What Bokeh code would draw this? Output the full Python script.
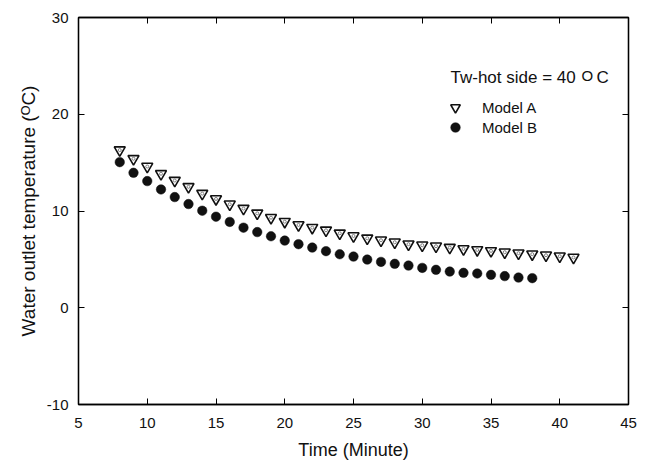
from bokeh.plotting import figure
from bokeh.models import (LinearAxis, FixedTicker, Legend, LegendItem, Label,
                          Range1d, ColumnDataSource, CustomJSTickFormatter)
from bokeh.embed import file_html
from bokeh.resources import INLINE

# ---- data ----
time_a = list(range(8, 42))
model_a = [16.3, 15.4, 14.6, 13.85, 13.15, 12.5, 11.8, 11.25, 10.7, 10.25,
           9.76, 9.31, 8.9, 8.56, 8.28, 8.01, 7.7, 7.42, 7.18, 6.98,
           6.77, 6.57, 6.46, 6.36, 6.22, 6.08, 5.98, 5.88, 5.74, 5.64,
           5.54, 5.43, 5.33, 5.2]
time_b = list(range(8, 39))
model_b = [15.05, 13.95, 13.09, 12.23, 11.44, 10.72, 10.03, 9.41, 8.87, 8.28,
           7.82, 7.39, 6.94, 6.57, 6.22, 5.85, 5.53, 5.29, 4.98, 4.74,
           4.54, 4.36, 4.12, 3.92, 3.74, 3.61, 3.54, 3.40, 3.27, 3.12, 3.06]
x_ticks = [5, 10, 15, 20, 25, 30, 35, 40, 45]
y_ticks = [-10, 0, 10, 20, 30]

FONT = "Liberation Sans"

p = figure(width=649, height=465, x_range=Range1d(5, 45), y_range=Range1d(-10, 30),
           output_backend="svg", toolbar_location=None,
           min_border_left=78, min_border_right=21, min_border_top=17,
           min_border_bottom=61)
p.grid.visible = False
p.outline_line_color = "black"
p.outline_line_width = 1.3
p.background_fill_color = "white"
p.border_fill_color = "white"

plain = CustomJSTickFormatter(code="return tick.toString();")


def style_axis(ax, ticks, show_labels=True):
    ax.ticker = FixedTicker(ticks=ticks)
    ax.formatter = plain
    ax.axis_line_color = "black"
    ax.axis_line_width = 1.3
    ax.major_tick_in = 6
    ax.major_tick_out = 0
    ax.major_tick_line_color = "black"
    ax.major_tick_line_width = 1
    ax.minor_tick_line_color = None
    ax.major_label_text_font = FONT
    if show_labels:
        ax.major_label_text_font_size = "15px"
        ax.major_label_text_color = "#111111"
    else:
        ax.major_label_text_font_size = "1px"
        ax.major_label_text_color = None
        ax.major_label_standoff = 0


style_axis(p.xaxis[0], x_ticks)
style_axis(p.yaxis[0], y_ticks)
p.xaxis.major_label_standoff = 13
p.yaxis.major_label_standoff = 10
p.xaxis.axis_label = "Time (Minute)"
p.yaxis.axis_label = "Water outlet temperature (\u1D3CC)"
for ax in (p.xaxis[0], p.yaxis[0]):
    ax.axis_label_text_font = FONT
    ax.axis_label_text_font_style = "normal"
    ax.axis_label_text_color = "#111111"
p.xaxis.axis_label_text_font_size = "18px"
p.yaxis.axis_label_text_font_size = "19px"
p.xaxis.axis_label_standoff = 9
p.yaxis.axis_label_standoff = 5

top_ax = LinearAxis()
style_axis(top_ax, x_ticks, show_labels=False)
p.add_layout(top_ax, "above")
right_ax = LinearAxis()
style_axis(right_ax, y_ticks, show_labels=False)
p.add_layout(right_ax, "right")

src_a = ColumnDataSource(dict(x=time_a, y=model_a))
src_b = ColumnDataSource(dict(x=time_b, y=model_b))

r_a = p.scatter("x", "y", source=src_a, marker="inverted_triangle", size=11,
                fill_color="white", line_color="#111111", line_width=1.6)
p.scatter("x", "y", source=src_a, marker="circle", size=3,
          fill_color="white", line_color="#666666", line_width=0.8)
r_b = p.scatter("x", "y", source=src_b, marker="circle", size=9.5,
                fill_color="#111111", line_color="#111111", line_width=0.5)

common = dict(padding=0, margin=0, spacing=0, glyph_width=24, glyph_height=24,
              label_height=24, label_standoff=15, border_line_color=None,
              background_fill_alpha=0, label_text_font=FONT,
              label_text_font_size="15px", label_text_color="#111111")
p.add_layout(Legend(items=[LegendItem(label="Model A", renderers=[r_a])],
                    location=(365, 285), **common))
p.add_layout(Legend(items=[LegendItem(label="Model B", renderers=[r_b])],
                    location=(365, 265), **common))

p.add_layout(Label(x=372, y=326.7, x_units="screen", y_units="screen",
                   text="Tw-hot side = 40", text_font=FONT, text_font_size="17px",
                   text_baseline="alphabetic", text_color="#111111"))
p.add_layout(Label(x=503, y=329.5, x_units="screen", y_units="screen",
                   text="O", text_font=FONT, text_font_size="15px",
                   text_baseline="alphabetic", text_color="#111111"))
p.add_layout(Label(x=518, y=326.7, x_units="screen", y_units="screen",
                   text="C", text_font=FONT, text_font_size="17px",
                   text_baseline="alphabetic", text_color="#111111"))

open("out.html", "w").write(file_html(p, INLINE))
